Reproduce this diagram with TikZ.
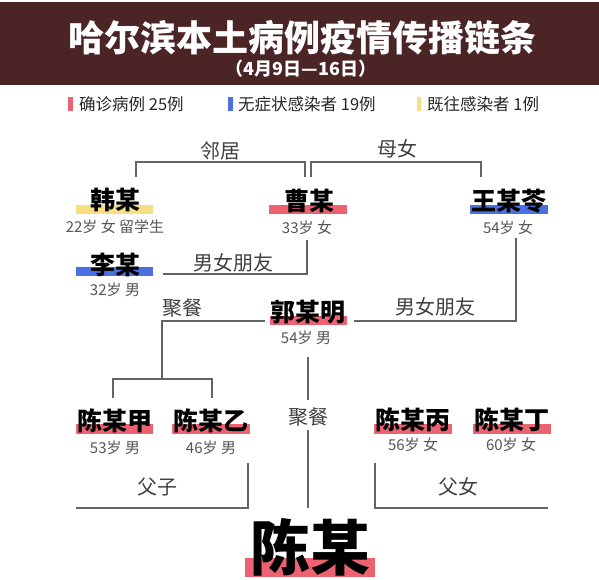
\documentclass[tikz,border=0pt]{standalone}
\usepackage{fontspec}
\setmainfont{Noto Sans CJK SC}
\definecolor{band}{RGB}{75,36,38}
\definecolor{cred}{RGB}{236,98,112}
\definecolor{cblue}{RGB}{76,112,226}
\definecolor{cyel}{RGB}{248,222,130}
\definecolor{linegray}{RGB}{100,100,100}
\definecolor{subgray}{RGB}{85,85,85}
\tikzset{
  pname/.style={font=\bfseries\fontsize{25}{25}\selectfont, inner sep=0pt, text=black},
  psub/.style={font=\fontsize{15}{15}\selectfont, inner sep=0pt, text=subgray},
  rel/.style={font=\fontsize{20}{20}\selectfont, inner sep=0pt, text=black!75},
  link/.style={draw=linegray, line width=1.3pt},
  legtext/.style={font=\fontsize{16.5}{16.5}\selectfont, inner sep=0pt, text=black!85, anchor=west},
}
\begin{document}
\begin{tikzpicture}[x=1pt,y=-1pt]
\useasboundingbox (0,0) rectangle (599,579);
\fill[white] (0,0) rectangle (599,579);
% title band
\fill[band] (0,2) rectangle (599,85);
\node[font=\bfseries\fontsize{36}{36}\selectfont, text=white, inner sep=0pt] (title) at (302,38) {哈尔滨本土病例疫情传播链条};
\node[font=\bfseries\fontsize{18}{18}\selectfont, text=white, inner sep=0pt] (subtitle) at (301,69) {（4月9日—16日）};
% legend
\fill[cred] (68,97) rectangle (73,111);
\node[legtext] (leg1) at (79,104) {确诊病例 25例};
\fill[cblue] (228,97) rectangle (233,111);
\node[legtext] (leg2) at (238,104) {无症状感染者 19例};
\fill[cyel] (417,97) rectangle (421,111);
\node[legtext] (leg3) at (427,104) {既往感染者 1例};
% persons: bars
\fill[cyel] (76,205) rectangle (153,214);
\fill[cred] (269,205) rectangle (347,214);
\fill[cblue] (470,205) rectangle (548,214);
\fill[cblue] (76,267) rectangle (153,276);
\fill[cred] (270,316) rectangle (347,325);
\fill[cred] (76,424) rectangle (153,434);
\fill[cred] (172,424) rectangle (250,434);
\fill[cred] (374,424) rectangle (452,434);
\fill[cred] (473,424) rectangle (551,434);
\fill[cred] (245,558) rectangle (375,577);
% persons: names
\node[pname] (han) at (115,200) {韩某};
\node[psub] (hansub) at (115,227) {22岁 女 留学生};
\node[pname] (cao) at (309,201) {曹某};
\node[psub] (caosub) at (307,228) {33岁 女};
\node[pname] (wang) at (509,201) {王某苓};
\node[psub] (wangsub) at (508,228) {54岁 女};
\node[pname] (li) at (115,265) {李某};
\node[psub] (lisub) at (115,290) {32岁 男};
\node[pname] (guo) at (308,312) {郭某明};
\node[psub] (guosub) at (306,338) {54岁 男};
\node[pname] (chenjia) at (115,421) {陈某甲};
\node[psub] (chenjiasub) at (115,448) {53岁 男};
\node[pname] (chenyi) at (211,421) {陈某乙};
\node[psub] (chenyisub) at (211,448) {46岁 男};
\node[pname] (chenbing) at (413,420) {陈某丙};
\node[psub] (chenbingsub) at (413,445) {56岁 女};
\node[pname] (chending) at (512,420) {陈某丁};
\node[psub] (chendingsub) at (511,445) {60岁 女};
\node[font=\bfseries\fontsize{60}{60}\selectfont, inner sep=0pt, text=black] (chen) at (310,547) {陈某};
% relation labels
\node[rel] (r1) at (220,151) {邻居};
\node[rel] (r2) at (397,149) {母女};
\node[rel] (r3) at (233,263) {男女朋友};
\node[rel] (r4) at (435,307) {男女朋友};
\node[rel] (r5) at (182,308) {聚餐};
\node[rel] (r6) at (308,417) {聚餐};
\node[rel] (r7) at (157,487) {父子};
\node[rel] (r8) at (458,487) {父女};
% connector coordinates
\coordinate (a1) at (136,177); \coordinate (a2) at (136,162);
\coordinate (a3) at (305,162); \coordinate (a4) at (305,177);
\coordinate (b1) at (311,177); \coordinate (b2) at (311,162);
\coordinate (b3) at (481,162); \coordinate (b4) at (481,177);
\coordinate (c1) at (307,240); \coordinate (c2) at (307,274); \coordinate (c3) at (163,274);
\coordinate (d1) at (516,238); \coordinate (d2) at (516,321); \coordinate (d3) at (354,321);
\coordinate (e1) at (265,321); \coordinate (e2) at (162,321); \coordinate (e3) at (162,379);
\coordinate (f1) at (113,398); \coordinate (f2) at (113,379);
\coordinate (f3) at (212,379); \coordinate (f4) at (212,398);
\coordinate (g1) at (308,357); \coordinate (g2) at (308,400);
\coordinate (g3) at (308,430); \coordinate (g4) at (308,508);
\coordinate (h1) at (248,463); \coordinate (h2) at (248,508); \coordinate (h3) at (76,508);
\coordinate (k1) at (375,463); \coordinate (k2) at (375,508); \coordinate (k3) at (548,508);
% connectors
\draw[link] (a1) -- (a2) -- (a3) -- (a4);
\draw[link] (b1) -- (b2) -- (b3) -- (b4);
\draw[link] (c1) -- (c2) -- (c3);
\draw[link] (d1) -- (d2) -- (d3);
\draw[link] (e1) -- (e2) -- (e3);
\draw[link] (f1) -- (f2) -- (f3) -- (f4);
\draw[link] (g1) -- (g2);
\draw[link] (g3) -- (g4);
\draw[link] (h1) -- (h2) -- (h3);
\draw[link] (k1) -- (k2) -- (k3);
\end{tikzpicture}
\end{document}
